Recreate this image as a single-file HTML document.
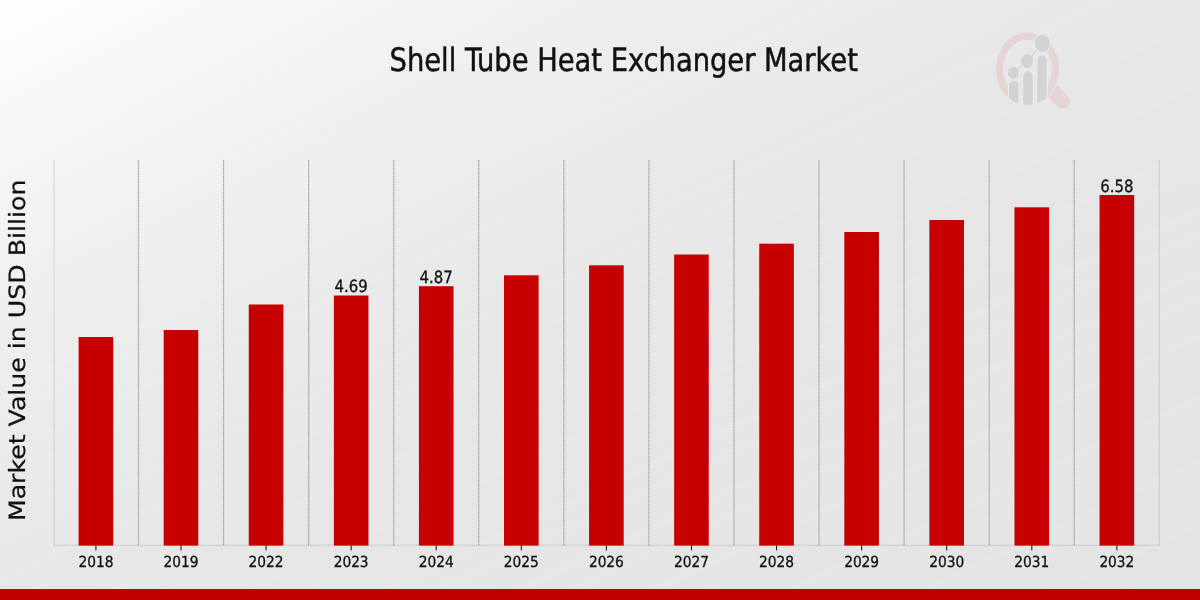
<!DOCTYPE html>
<html lang="en"><head><meta charset="utf-8"><title>Shell Tube Heat Exchanger Market</title>
<style>
html,body{margin:0;padding:0;width:1200px;height:600px;overflow:hidden;background:#e6e6e6}
#c{position:relative;width:1200px;height:600px;overflow:hidden;
background:repeating-linear-gradient(155deg,rgba(255,255,255,0) 0,rgba(255,255,255,0) 8px,rgba(255,255,255,.07) 13px,rgba(255,255,255,0) 18px,rgba(255,255,255,0) 30px,rgba(255,255,255,.05) 35px,rgba(255,255,255,0) 40px,rgba(255,255,255,0) 57px),linear-gradient(153deg,#ffffff 0%,#f6f6f6 12%,#eeeeee 28%,#e8e8e8 45%,#e6e6e6 60%,#e4e4e4 100%)}
svg{position:absolute;left:0;top:0}
text{text-rendering:geometricPrecision}
.g{stroke:#a6a6a6;stroke-width:1.25;stroke-dasharray:1.5 0.5}
.e{opacity:.4}
.ax{stroke:#a0a0a0;stroke-width:1.1;stroke-dasharray:1.5 0.5;opacity:.5}
.tk{stroke:#222;stroke-width:1.1}
.t{stroke:#111;stroke-width:.3px;font-family:"DejaVu Sans Condensed","DejaVu Sans","Liberation Sans",sans-serif;font-size:15.28px;fill:#111;text-anchor:middle}
.b{font-size:16.6px}
.title{stroke:#111;stroke-width:.45px;font-family:"DejaVu Sans Condensed","DejaVu Sans","Liberation Sans",sans-serif;font-size:30.38px;fill:#111;text-anchor:middle}
.yl{stroke:#111;stroke-width:.28px;font-family:"DejaVu Sans","Liberation Sans",sans-serif;font-size:25.22px;fill:#111;text-anchor:middle}
#foot{position:absolute;left:0;top:589px;width:1200px;height:11px;background:#c00000}
</style></head><body>
<div id="c">
<svg width="1200" height="600" viewBox="0 0 1200 600">
<line x1="54.00" y1="160" x2="54.00" y2="545.6" class="g e"/>
<line x1="138.49" y1="160" x2="138.49" y2="545.6" class="g"/>
<line x1="223.56" y1="160" x2="223.56" y2="545.6" class="g"/>
<line x1="308.63" y1="160" x2="308.63" y2="545.6" class="g"/>
<line x1="393.70" y1="160" x2="393.70" y2="545.6" class="g"/>
<line x1="478.77" y1="160" x2="478.77" y2="545.6" class="g"/>
<line x1="563.84" y1="160" x2="563.84" y2="545.6" class="g"/>
<line x1="648.91" y1="160" x2="648.91" y2="545.6" class="g"/>
<line x1="733.98" y1="160" x2="733.98" y2="545.6" class="g"/>
<line x1="819.05" y1="160" x2="819.05" y2="545.6" class="g"/>
<line x1="904.12" y1="160" x2="904.12" y2="545.6" class="g"/>
<line x1="989.19" y1="160" x2="989.19" y2="545.6" class="g"/>
<line x1="1074.26" y1="160" x2="1074.26" y2="545.6" class="g"/>
<line x1="1159.33" y1="160" x2="1159.33" y2="545.6" class="g e"/>
<line x1="53.5" y1="545.3" x2="1159.6" y2="545.3" class="ax"/>
<rect x="78.60" y="337" width="34.6" height="208.60" fill="#c60000"/>
<line x1="95.90" y1="545.6" x2="95.90" y2="550.5" class="tk"/>
<text x="95.90" y="567.35" class="t">2018</text>
<rect x="163.68" y="330" width="34.6" height="215.60" fill="#c60000"/>
<line x1="180.98" y1="545.6" x2="180.98" y2="550.5" class="tk"/>
<text x="180.98" y="567.35" class="t">2019</text>
<rect x="248.76" y="304.5" width="34.6" height="241.10" fill="#c60000"/>
<line x1="266.06" y1="545.6" x2="266.06" y2="550.5" class="tk"/>
<text x="266.06" y="567.35" class="t">2022</text>
<rect x="333.84" y="295.5" width="34.6" height="250.10" fill="#c60000"/>
<line x1="351.14" y1="545.6" x2="351.14" y2="550.5" class="tk"/>
<text x="351.14" y="567.35" class="t">2023</text>
<text transform="translate(351.14,292.40) scale(1,1.015)" class="t b">4.69</text>
<rect x="418.92" y="286.2" width="34.6" height="259.40" fill="#c60000"/>
<line x1="436.22" y1="545.6" x2="436.22" y2="550.5" class="tk"/>
<text x="436.22" y="567.35" class="t">2024</text>
<text transform="translate(436.22,283.10) scale(1,1.015)" class="t b">4.87</text>
<rect x="504.00" y="275.3" width="34.6" height="270.30" fill="#c60000"/>
<line x1="521.30" y1="545.6" x2="521.30" y2="550.5" class="tk"/>
<text x="521.30" y="567.35" class="t">2025</text>
<rect x="589.08" y="265.3" width="34.6" height="280.30" fill="#c60000"/>
<line x1="606.38" y1="545.6" x2="606.38" y2="550.5" class="tk"/>
<text x="606.38" y="567.35" class="t">2026</text>
<rect x="674.16" y="254.5" width="34.6" height="291.10" fill="#c60000"/>
<line x1="691.46" y1="545.6" x2="691.46" y2="550.5" class="tk"/>
<text x="691.46" y="567.35" class="t">2027</text>
<rect x="759.24" y="243.7" width="34.6" height="301.90" fill="#c60000"/>
<line x1="776.54" y1="545.6" x2="776.54" y2="550.5" class="tk"/>
<text x="776.54" y="567.35" class="t">2028</text>
<rect x="844.32" y="232" width="34.6" height="313.60" fill="#c60000"/>
<line x1="861.62" y1="545.6" x2="861.62" y2="550.5" class="tk"/>
<text x="861.62" y="567.35" class="t">2029</text>
<rect x="929.40" y="220" width="34.6" height="325.60" fill="#c60000"/>
<line x1="946.70" y1="545.6" x2="946.70" y2="550.5" class="tk"/>
<text x="946.70" y="567.35" class="t">2030</text>
<rect x="1014.48" y="207.3" width="34.6" height="338.30" fill="#c60000"/>
<line x1="1031.78" y1="545.6" x2="1031.78" y2="550.5" class="tk"/>
<text x="1031.78" y="567.35" class="t">2031</text>
<rect x="1099.56" y="195" width="34.6" height="350.60" fill="#c60000"/>
<line x1="1116.86" y1="545.6" x2="1116.86" y2="550.5" class="tk"/>
<text x="1116.86" y="567.35" class="t">2032</text>
<text transform="translate(1116.86,191.90) scale(1,1.015)" class="t b">6.58</text>
<text transform="translate(623.7,70.5) scale(1,1.06)" class="title">Shell Tube Heat Exchanger Market</text>
<text transform="translate(25.1,350.3) rotate(-90) scale(1,0.89)" class="yl">Market Value in USD Billion</text>

<defs>
<mask id="hm" maskUnits="userSpaceOnUse" x="980" y="20" width="120" height="100"><rect x="980" y="20" width="120" height="100" fill="#fff"/><ellipse cx="1027.5" cy="68.75" rx="32.7" ry="37.45" fill="#000"/></mask>
<mask id="rm" maskUnits="userSpaceOnUse" x="980" y="20" width="120" height="100"><rect x="980" y="20" width="120" height="100" fill="#fff"/><rect x="1008" y="92" width="39.8" height="20" fill="#000"/></mask>
<clipPath id="oc"><ellipse cx="1027.5" cy="68.75" rx="31.5" ry="36.25"/></clipPath>
</defs>
<g id="logo">
<line x1="1049" y1="87.8" x2="1062.75" y2="101.2" stroke="#e6d4d5" stroke-width="14.5" stroke-linecap="round" mask="url(#hm)"/>
<ellipse cx="1027.5" cy="68.75" rx="27.9" ry="32.65" fill="none" stroke="#e6d4d5" stroke-width="7.2" mask="url(#rm)"/>
<g clip-path="url(#oc)" fill="#d1d2d6" stroke="#ebebeb" stroke-width="2.2" paint-order="stroke">
<path d="M1009 110V85.8a4.75 4.9 0 0 1 9.5 0V110Z"/>
<path d="M1023.2 110V75.9a4.8 4.9 0 0 1 9.6 0V110Z"/>
<path d="M1037.3 110V60.4a4.7 4.9 0 0 1 9.4 0V110Z"/>
</g>
<polyline points="1013.3,72.8 1027.2,61 1042.5,43.2" fill="none" stroke="#d1d2d6" stroke-width="1.1"/>
<g fill="#d1d2d6" stroke="#ebebeb" stroke-width="2" paint-order="stroke">
<ellipse cx="1013.3" cy="72.8" rx="5.5" ry="6"/>
<ellipse cx="1027.2" cy="61" rx="6" ry="6.9"/>
<ellipse cx="1042.5" cy="43.2" rx="7.5" ry="8.75"/>
</g>
</g>

</svg>
<div id="foot"></div>
</div>
</body></html>
